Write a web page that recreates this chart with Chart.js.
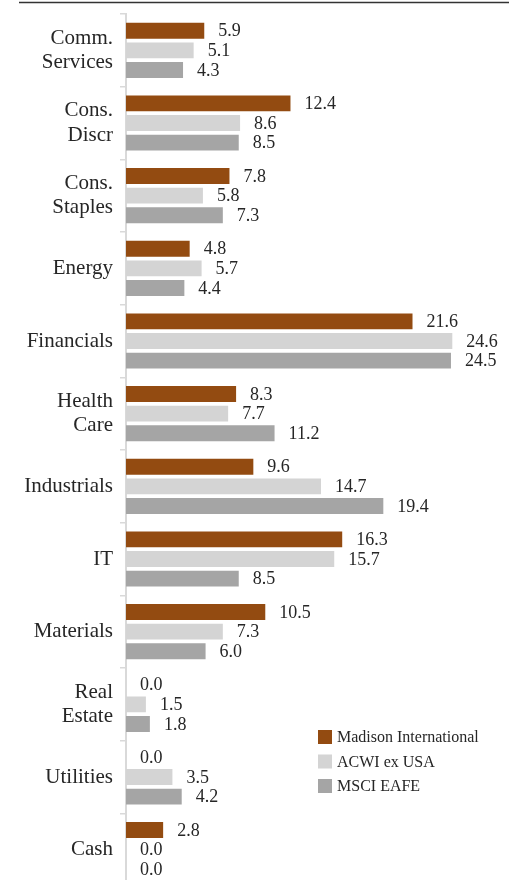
<!DOCTYPE html>
<html>
<head>
<meta charset="utf-8">
<script src="https://cdn.jsdelivr.net/npm/chart.js@4"></script>
<style>
  html, body { margin: 0; padding: 0; background: #fff; overflow: hidden; }
</style>
</head>
<body>
<canvas id="bar-chart" width="509" height="886"></canvas>
<script>
const categories = [
  ['Comm.', 'Services'], ['Cons.', 'Discr'], ['Cons.', 'Staples'], 'Energy',
  'Financials', ['Health', 'Care'], 'Industrials', 'IT', 'Materials',
  ['Real', 'Estate'], 'Utilities', 'Cash'
];
const seriesNames = ['Madison International', 'ACWI ex USA', 'MSCI EAFE'];
const madison = [5.9, 12.4, 7.8, 4.8, 21.6, 8.3, 9.6, 16.3, 10.5, 0.0, 0.0, 2.8];
const acwi = [5.1, 8.6, 5.8, 5.7, 24.6, 7.7, 14.7, 15.7, 7.3, 1.5, 3.5, 0.0];
const eafe = [4.3, 8.5, 7.3, 4.4, 24.5, 11.2, 19.4, 8.5, 6.0, 1.8, 4.2, 0.0];
const colors = ['#934b11', '#d4d4d4', '#a5a5a5'];
const serif = '"Liberation Serif", "DejaVu Serif", serif';

// value labels right of each bar
const valueLabels = {
  id: 'valueLabels',
  afterDatasetsDraw(chart) {
    const ctx = chart.ctx;
    ctx.save();
    ctx.font = '18px ' + serif;
    ctx.fillStyle = '#262626';
    ctx.textAlign = 'left';
    ctx.textBaseline = 'middle';
    chart.data.datasets.forEach((ds, i) => {
      chart.getDatasetMeta(i).data.forEach((bar, j) => {
        ctx.fillText(ds.data[j].toFixed(1), bar.x + 14, bar.y + 1);
      });
    });
    ctx.restore();
  }
};

// top rule + legend box in the lower right
const extras = {
  id: 'extras',
  afterDraw(chart) {
    const ctx = chart.ctx;
    ctx.save();
    ctx.strokeStyle = '#333';
    ctx.lineWidth = 1.5;
    ctx.beginPath();
    ctx.moveTo(19, 2.5);
    ctx.lineTo(509, 2.5);
    ctx.stroke();

    ctx.font = '16px ' + serif;
    ctx.textBaseline = 'middle';
    chart.data.datasets.forEach((ds, i) => {
      const y = 737 + i * 24.5;
      ctx.fillStyle = ds.backgroundColor;
      ctx.fillRect(318, y - 7, 14, 14);
      ctx.fillStyle = '#262626';
      ctx.fillText(ds.label, 337, y + 1);
    });
    ctx.restore();
  }
};

new Chart(document.getElementById('bar-chart'), {
  type: 'bar',
  data: {
    labels: categories,
    datasets: [madison, acwi, eafe].map((d, i) => ({
      label: seriesNames[i],
      data: d,
      backgroundColor: colors[i],
      categoryPercentage: 0.81,
      barPercentage: 0.81
    }))
  },
  options: {
    indexAxis: 'y',
    responsive: false,
    animation: false,
    layout: { padding: { top: 14, right: 11.6, bottom: 0, left: 0 } },
    plugins: {
      legend: { display: false },
      tooltip: { enabled: false }
    },
    scales: {
      x: {
        display: false,
        min: 0,
        max: 28
      },
      y: {
        afterFit(scale) {
          scale.width = 126;
          scale.paddingTop = 0;
          scale.paddingBottom = 0;
        },
        grid: {
          offset: true,
          drawOnChartArea: false,
          tickLength: 6,
          color: '#d9d9d9',
          lineWidth: 1.5
        },
        border: { display: true, color: '#d9d9d9', width: 2 },
        ticks: {
          padding: 7,
          color: '#262626',
          font: { family: serif, size: 21, lineHeight: 1.15 }
        }
      }
    }
  },
  plugins: [valueLabels, extras]
});
</script>
</body>
</html>
